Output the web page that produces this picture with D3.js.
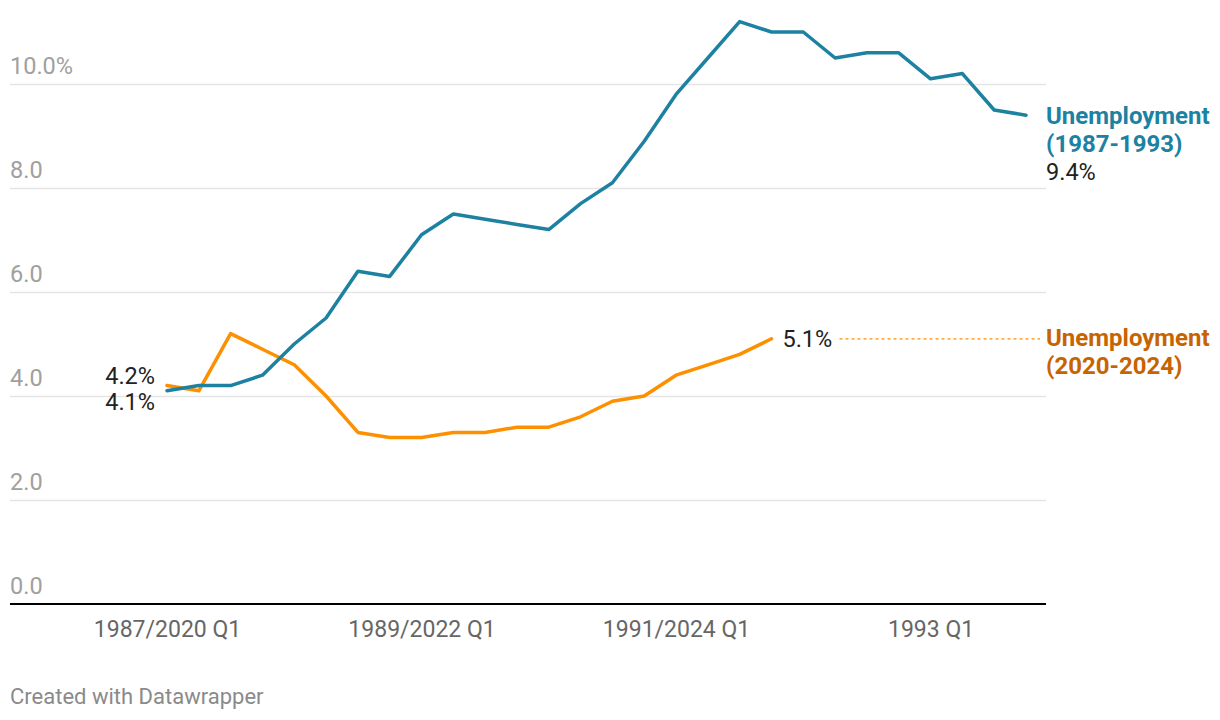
<!DOCTYPE html>
<html>
<head>
<meta charset="utf-8">
<script src="https://cdn.jsdelivr.net/npm/d3@7"></script>
<style>
  html, body { margin: 0; padding: 0; background: #fff; }
  svg { display: block; font-family: Roboto, "Noto Sans", sans-serif; }
</style>
</head>
<body>
<svg id="chart" width="1220" height="720"></svg>
<script>
// ---- data ----
const blueValues = [4.1,4.2,4.2,4.4,5.0,5.5,6.4,6.3,7.1,7.5,7.4,7.3,7.2,7.7,8.1,8.9,9.8,10.5,11.2,11.0,11.0,10.5,10.6,10.6,10.1,10.2,9.5,9.4];
const orangeValues = [4.2,4.1,5.2,4.9,4.6,4.0,3.3,3.2,3.2,3.3,3.3,3.4,3.4,3.6,3.9,4.0,4.4,4.6,4.8,5.1];
const xTickIdx = [0, 8, 16, 24];
const xTickLabels = ["1987/2020 Q1", "1989/2022 Q1", "1991/2024 Q1", "1993 Q1"];
const yTicks = [0, 2, 4, 6, 8, 10];
const yTickLabels = ["0.0", "2.0", "4.0", "6.0", "8.0", "10.0%"];
const seriesNames = [["Unemployment", "(1987-1993)"], ["Unemployment", "(2020-2024)"]];

const blueLine = "#1d81a2", blueText = "#1d81a2";
const orangeLine = "#fd9000", orangeText = "#c86400";

const svg = d3.select("#chart");
const x = d3.scaleLinear().domain([0, 27]).range([167, 1026]);
const y = d3.scaleLinear().domain([0, 10]).range([604, 84]);
const plotLeft = 10, plotRight = 1046;

// gridlines
const gy = svg.append("g").attr("transform", `translate(${plotRight},0)`);
gy.call(d3.axisRight(y).tickValues(yTicks.filter(v => v > 0)).tickSize(-(plotRight - plotLeft)).tickFormat(""));
gy.select(".domain").remove();
gy.selectAll(".tick line").attr("stroke", "#e5e5e5").attr("stroke-width", 1.5);

// y labels
svg.append("g").selectAll("text").data(yTicks).join("text")
  .attr("x", plotLeft).attr("y", d => y(d) - 10)
  .attr("font-size", 23.5).attr("fill", "#a0a0a0")
  .text((d, i) => yTickLabels[i]);

// baseline
svg.append("line").attr("x1", plotLeft).attr("x2", plotRight)
  .attr("y1", y(0)).attr("y2", y(0)).attr("stroke", "#000").attr("stroke-width", 2);

// x axis labels
const gx = svg.append("g").attr("transform", `translate(0,${y(0)})`)
  .call(d3.axisBottom(x).tickValues(xTickIdx).tickSize(0).tickPadding(17)
    .tickFormat((d, i) => xTickLabels[i]));
gx.select(".domain").remove();
gx.selectAll("text").attr("font-size", 23).attr("fill", "#666")
  .attr("font-family", "Roboto, sans-serif");

// lines
const line = d3.line().x((d, i) => x(i)).y(d => y(d));
svg.append("path").datum(orangeValues).attr("d", line)
  .attr("fill", "none").attr("stroke", orangeLine).attr("stroke-width", 3.5)
  .attr("stroke-linejoin", "round").attr("stroke-linecap", "round");
svg.append("path").datum(blueValues).attr("d", line)
  .attr("fill", "none").attr("stroke", blueLine).attr("stroke-width", 3.5)
  .attr("stroke-linejoin", "round").attr("stroke-linecap", "round");

// start values
svg.append("text").attr("x", 155).attr("y", y(orangeValues[0]) - 1.5)
  .attr("text-anchor", "end").attr("font-size", 23.5).attr("fill", "#222")
  .text(orangeValues[0].toFixed(1) + "%");
svg.append("text").attr("x", 155).attr("y", y(blueValues[0]) + 19)
  .attr("text-anchor", "end").attr("font-size", 23.5).attr("fill", "#222")
  .text(blueValues[0].toFixed(1) + "%");

// blue end label
const bEnd = blueValues[blueValues.length - 1];
const bg = svg.append("g");
bg.selectAll("text.nm").data(seriesNames[0]).join("text")
  .attr("x", plotRight).attr("y", (d, i) => y(bEnd) + 9 + i * 28)
  .attr("font-size", 24).attr("font-weight", "bold").attr("fill", blueText).text(d => d);
bg.append("text").attr("x", plotRight).attr("y", y(bEnd) + 9 + 2 * 28)
  .attr("font-size", 23.5).attr("fill", "#222").text(bEnd.toFixed(1) + "%");

// orange end label
const oEndIdx = orangeValues.length - 1, oEnd = orangeValues[oEndIdx];
svg.append("text").attr("x", x(oEndIdx) + 11).attr("y", y(oEnd) + 8)
  .attr("font-size", 23.5).attr("fill", "#222").text(oEnd.toFixed(1) + "%");
svg.append("line").attr("x1", x(oEndIdx) + 68).attr("x2", plotRight - 6)
  .attr("y1", y(oEnd)).attr("y2", y(oEnd))
  .attr("stroke", orangeLine).attr("stroke-width", 1.2).attr("stroke-dasharray", "3,3");
svg.append("g").selectAll("text").data(seriesNames[1]).join("text")
  .attr("x", plotRight).attr("y", (d, i) => y(oEnd) + 7 + i * 28)
  .attr("font-size", 24).attr("font-weight", "bold").attr("fill", orangeText).text(d => d);

// credit
svg.append("text").attr("x", 10).attr("y", 704).attr("font-size", 22).attr("fill", "#8a8a8a")
  .text("Created with Datawrapper");
</script>
</body>
</html>
